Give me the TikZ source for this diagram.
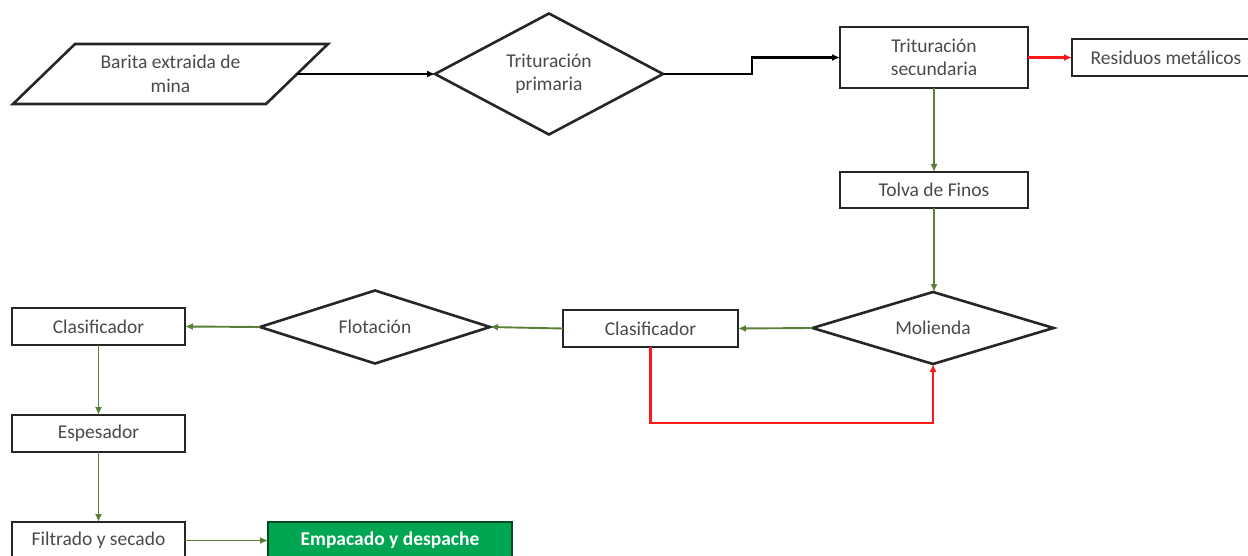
\documentclass[tikz,border=0pt]{standalone}
\usepackage{fontspec}
\setmainfont{Carlito}
\usetikzlibrary{shapes.geometric,arrows.meta,calc}
\definecolor{boxc}{HTML}{262626}
\definecolor{txt}{HTML}{4A4A4A}
\definecolor{grn}{HTML}{5B7F3A}
\definecolor{redl}{HTML}{FF1A1A}
\definecolor{empf}{HTML}{00A651}
\newcommand{\fsz}{\fontsize{19.5}{23.5}\selectfont}
\begin{document}
\begin{tikzpicture}[x=1pt,y=-1pt,
  pbox/.style={draw=boxc, line width=2.6pt, fill=white, text=txt, font=\fsz, align=center, inner sep=0pt, outer sep=0pt},
  dia/.style={pbox, shape=diamond},
  tip/.style={-{Latex[length=8pt,width=7pt]}},
  blk/.style={draw=black, line width=2.2pt, tip},
  gar/.style={draw=grn, line width=1.9pt, tip},
  rar/.style={draw=redl, line width=2.1pt, tip}]
\useasboundingbox (0,0) rectangle (1248,556);
\clip (0,0) rectangle (1248,556);
\fill[white] (0,0) rectangle (1248,556);

% nodes
\node[pbox, draw=none, fill=none, minimum width=253pt, minimum height=60pt] (bar) at (170.5,74) {Barita extraida de\\mina};
\draw[draw=boxc, line width=2.6pt, line join=miter] ($(bar.north west)+(31pt,0pt)$) -- ($(bar.north east)+(31pt,0pt)$) -- ($(bar.south east)+(-31pt,0pt)$) -- ($(bar.south west)+(-31pt,0pt)$) -- cycle;
\node[dia, minimum width=228pt, minimum height=121pt, aspect=1.9] (d1) at (549,74) {Trituración\\primaria};
\node[pbox, minimum width=188pt, minimum height=61pt] (tsec) at (934,57.5) {Trituración\\secundaria};
\node[pbox, minimum width=188pt, minimum height=37pt] (res) at (1166,57.5) {Residuos metálicos};
\node[pbox, minimum width=188pt, minimum height=36pt] (tolva) at (934,190) {Tolva de Finos};
\node[dia, minimum width=241pt, minimum height=72pt, aspect=3.3] (mol) at (933,328) {Molienda};
\node[pbox, minimum width=175pt, minimum height=37pt] (cl2) at (650.5,328.5) {Clasificador};
\node[dia, minimum width=230pt, minimum height=73pt, aspect=3.1] (flot) at (375,327) {Flotación};
\node[pbox, minimum width=173pt, minimum height=37pt] (cl1) at (98.5,326.5) {Clasificador};
\node[pbox, minimum width=173pt, minimum height=37pt] (esp) at (98.5,433.5) {Espesador};
\node[pbox, minimum width=173pt, minimum height=37pt] (fil) at (98.5,540.5) {Filtrado y secado};
\node[pbox, fill=empf, draw=empf!45!black, text=white, font=\fsz\bfseries, minimum width=244pt, minimum height=37pt] (emp) at (390,540.5) {Empacado y despache};

\coordinate (k1) at (752,74);
\coordinate (k2) at (0,423);

% connectors
\draw[blk] (bar.east) -- (d1.west);
\draw[blk] (d1.east) -- (k1) |- (tsec.west);
\draw[rar] (tsec.east) -- (res.west);
\draw[gar] (tsec.south) -- (tolva.north);
\draw[gar] (tolva.south) -- (tolva.south |- mol.north);
\draw[gar] (mol.west) -- (cl2.east);
\draw[gar] (cl2.west) -- (flot.east);
\draw[gar] (flot.west) -- (cl1.east);
\draw[gar] (cl1.south) -- (esp.north);
\draw[gar] (esp.south) -- (fil.north);
\draw[gar] (fil.east) -- (emp.west);
\draw[rar] (cl2.south) -- (cl2.south |- k2) -| (mol.south);
\end{tikzpicture}
\end{document}
